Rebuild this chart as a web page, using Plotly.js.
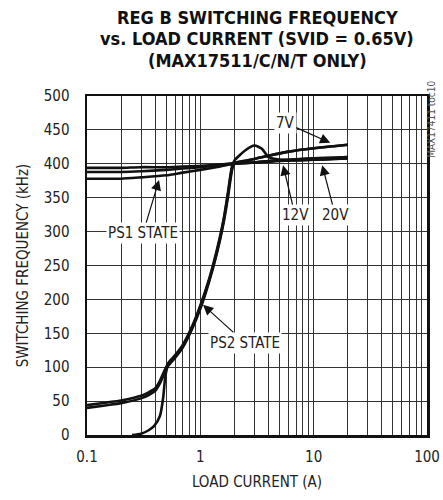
<!DOCTYPE html>
<html>
<head>
<meta charset="utf-8">
<script src="https://cdn.plot.ly/plotly-3.0.1.min.js"></script>
<style>
html,body{margin:0;padding:0;background:#fff;}
#chart{width:443px;height:500px;}
#chart svg text{font-stretch:condensed !important;}
</style>
</head>
<body>
<div id="chart"></div>
<script>
// ---- data ----
var xTickVals = [0.1,0.2,0.3,0.4,0.5,0.6,0.7,0.8,0.9,1,2,3,4,5,6,7,8,9,10,20,30,40,50,60,70,80,90,100];
var xTickText = ['0.1','','','','','','','','','1','','','','','','','','','10','','','','','','','','','100'];

var xPS1   = [0.1, 0.15, 0.2, 0.3, 0.5, 0.7, 1, 1.5, 2, 3, 4, 6, 10, 15, 20];
var ps1_7V  = [394, 394, 394, 395, 395, 396, 397, 399, 401, 407, 412, 418, 423, 426, 428];
var ps1_12V = [388, 388, 388, 389, 391, 393, 395, 398, 400, 402, 403, 405, 406, 407, 408];
var ps1_20V = [378, 378, 378, 380, 383, 387, 391, 396, 400, 402, 404, 406, 408, 409, 410];

var xPS2a   = [0.1, 0.15, 0.2, 0.3, 0.35, 0.4, 0.44, 0.48, 0.52, 0.6, 0.7, 0.85, 1, 1.2, 1.4, 1.6, 1.75, 1.9, 2, 3, 4, 6, 10, 15, 20];
var ps2_7V  = [40, 44, 47, 54, 59, 65, 76, 90, 102, 114, 129, 157, 186, 227, 268, 312, 350, 390, 401, 407, 412, 418, 423, 426, 428];
var xPS2b   = [0.1, 0.15, 0.2, 0.3, 0.35, 0.4, 0.44, 0.48, 0.52, 0.6, 0.7, 0.85, 1, 1.2, 1.4, 1.6, 1.75, 1.9, 2, 2.5, 3, 3.5, 4, 6, 10, 15, 20];
var ps2_12V = [44, 48, 51, 58, 63, 69, 80, 94, 106, 118, 133, 161, 191, 231, 273, 317, 357, 396, 405, 420, 427, 422, 410, 405, 406, 407, 408];
var xPS2c   = [0.25, 0.3, 0.35, 0.39, 0.44, 0.47, 0.49, 0.52, 0.6, 0.7, 0.85, 1, 1.2, 1.4, 1.6, 1.75, 1.9, 2, 3, 4, 6, 10, 15, 20];
var ps2_20V = [0, 2, 7, 13, 28, 55, 85, 104, 116, 131, 159, 189, 229, 270, 315, 354, 393, 401, 402, 404, 406, 408, 409, 410];

var titleLines = ['REG B SWITCHING FREQUENCY', 'vs. LOAD CURRENT (SVID = 0.65V)', '(MAX17511/C/N/T ONLY)'];
var labels = ['7V', '12V', '20V', 'PS1 STATE', 'PS2 STATE'];
var labelX = [14.0, 5.37, 11.9, 0.432, 1.056];
var labelY = [431, 398, 398, 376, 192];

// ---- chart ----
var FONT = '"DejaVu Sans Condensed", "DejaVu Sans", sans-serif';
function tr(x, y) {
  return {x: x, y: y, type: 'scatter', mode: 'lines', line: {color: '#111', width: 2.6, shape: 'spline', smoothing: 0.6}, hoverinfo: 'skip', showlegend: false};
}
var data = [tr(xPS1, ps1_7V), tr(xPS1, ps1_12V), tr(xPS1, ps1_20V), tr(xPS2a, ps2_7V), tr(xPS2b, ps2_12V), tr(xPS2c, ps2_20V)];

var offsets = [[-45, -20], [12, 50], [13, 50], [-16, 53], [42, 38]];
var annotations = labels.map(function (t, i) {
  return {x: Math.log10(labelX[i]), y: labelY[i], xref: 'x', yref: 'y', text: t, showarrow: true,
    arrowhead: 2, arrowsize: 1.7, arrowwidth: 1.2, arrowcolor: '#111', ax: offsets[i][0], ay: offsets[i][1],
    bgcolor: '#fff', borderpad: 1, font: {family: FONT, size: 15, color: '#222'}};
});
var titleY = [1.233, 1.171, 1.106];
titleLines.forEach(function (t, i) {
  annotations.push({x: 0.5, y: titleY[i], xref: 'paper', yref: 'paper', text: '<b>' + t + '</b>', showarrow: false,
    xanchor: 'center', yanchor: 'middle', font: {family: FONT, size: 18, color: '#111'}});
});
annotations.push({x: 1.015, y: 0.93, xref: 'paper', yref: 'paper', text: 'MAX17411 toc10', showarrow: false,
  textangle: -90, xanchor: 'center', yanchor: 'middle', font: {family: FONT, size: 10, color: '#555'}});

var layout = {
  width: 443, height: 500,
  margin: {l: 87, r: 16, t: 96, b: 65},
  paper_bgcolor: '#fff', plot_bgcolor: '#fff',
  xaxis: {type: 'log', range: [-1, 2], tickvals: xTickVals, ticktext: xTickText, ticks: '',
    showgrid: true, gridcolor: '#333', gridwidth: 1, showline: true, linecolor: '#111', linewidth: 2.5, mirror: true,
    zeroline: false, tickfont: {family: FONT, size: 15, color: '#222'}, ticklabelstandoff: 6,
    title: {text: 'LOAD CURRENT (A)', font: {family: FONT, size: 15, color: '#222'}, standoff: 12}},
  yaxis: {range: [0, 500], dtick: 50, ticks: '', showgrid: true, gridcolor: '#333', gridwidth: 1,
    showline: true, linecolor: '#111', linewidth: 2.5, mirror: true, zeroline: false,
    tickfont: {family: FONT, size: 15, color: '#222'}, ticklabelstandoff: 12,
    title: {text: 'SWITCHING FREQUENCY (kHz)', font: {family: FONT, size: 15, color: '#222'}, standoff: 12}},
  annotations: annotations
};
Plotly.newPlot('chart', data, layout, {displayModeBar: false, staticPlot: true});
</script>
</body>
</html>
